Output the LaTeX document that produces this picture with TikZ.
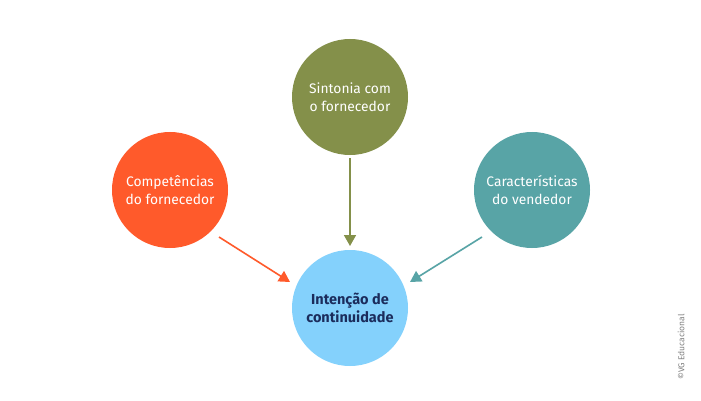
\documentclass[tikz,border=0pt]{standalone}
\usepackage{fontspec}
\setmainfont{Fira Sans}
\usetikzlibrary{arrows.meta}
\definecolor{corange}{HTML}{FF5A2B}
\definecolor{colive}{HTML}{84904A}
\definecolor{cteal}{HTML}{58A4A6}
\definecolor{cblue}{HTML}{84D1FC}
\definecolor{cnavy}{HTML}{1B2C5C}
\begin{document}
\begin{tikzpicture}[x=1pt,y=-1pt,
  circ/.style={circle,minimum size=116pt,inner sep=0pt,align=center,text=white,font=\fontsize{13.8}{17.5}\selectfont},
  arr/.style={line width=1.6pt,-{Triangle[length=11pt,width=12pt]}}]
\useasboundingbox[fill=white] (0,0) rectangle (701,401);
\node[circ,fill=colive] (top) at (350,97) {Sintonia com\\o fornecedor};
\node[circ,fill=corange] (left) at (170,190) {Competências\\do fornecedor};
\node[circ,fill=cteal] (right) at (532,190) {Características\\do vendedor};
\node[circ,fill=cblue,text=cnavy,font=\bfseries\fontsize{14.5}{17.5}\selectfont] (bot) at (350,308) {Intenção de\\continuidade};
\coordinate (ls) at (219,237); \coordinate (le) at (290,282);
\coordinate (ts) at (350,158); \coordinate (te) at (350,246);
\coordinate (rs) at (482,237); \coordinate (re) at (410,282);
\draw[arr,corange] (ls) -- (le);
\draw[arr,colive] (ts) -- (te);
\draw[arr,cteal] (rs) -- (re);
\node[rotate=90,text=gray,font=\fontsize{8.5}{9}\selectfont,inner sep=0pt] (cr) at (681,347) {©VG Educacional};
\end{tikzpicture}
\end{document}
